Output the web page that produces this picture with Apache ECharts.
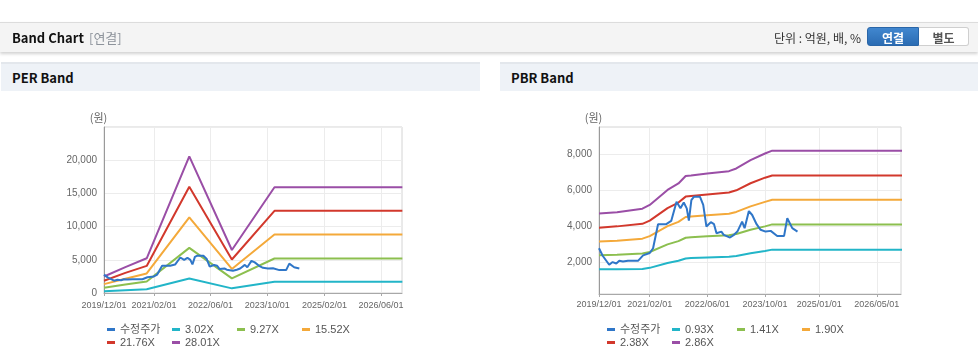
<!DOCTYPE html>
<html><head><meta charset="utf-8">
<script src="https://cdn.jsdelivr.net/npm/echarts@6/dist/echarts.min.js"></script>
<style>
html,body{margin:0;padding:0;width:978px;height:361px;overflow:hidden;background:#fff;font-family:"Noto Sans CJK KR","Noto Sans",sans-serif;}
#chart{position:absolute;left:0;top:0;width:978px;height:361px;}
.bar{position:absolute;left:0;top:22px;width:978px;height:29px;background:#f4f4f4;border-top:1px solid #dcdcdc;box-shadow:0 2px 3px rgba(0,0,0,0.18);z-index:2;}
.bar .t{position:absolute;left:12px;top:6px;font-size:13px;font-weight:700;color:#111;line-height:17px;}
.bar .s{position:absolute;left:89px;top:6px;font-size:13px;color:#8d939b;line-height:17px;}
.bar .u{position:absolute;right:117px;top:6px;font-size:12px;color:#333;line-height:17px;}
.btn{position:absolute;top:4px;height:19px;line-height:19px;font-size:12px;font-weight:700;text-align:center;box-sizing:border-box;}
.b1{left:867px;width:52px;background:linear-gradient(#4187cf,#2b6cb3);color:#fff;border:1px solid #2a66a8;border-radius:3px 0 0 3px;}
.b2{left:919px;width:50px;background:#fff;color:#555;border:1px solid #cfcfcf;border-left:none;border-radius:0 3px 3px 0;}
.sec{position:absolute;top:62px;height:27px;background:#eef2f7;border-top:2px solid #e3e7ec;z-index:2;}
.sec span{position:absolute;left:11px;top:5px;font-size:13px;font-weight:700;color:#111;line-height:17px;}
</style></head>
<body>
<div id="chart"></div>
<div class="bar"><span class="t">Band Chart</span><span class="s">[연결]</span><span class="u">단위 : 억원, 배, %</span>
<div class="btn b1">연결</div><div class="btn b2">별도</div></div>
<div class="sec" style="left:1px;width:479px;"><span>PER Band</span></div>
<div class="sec" style="left:500px;width:478px;"><span>PBR Band</span></div>
<script>
// ---- data ----
const priceName = '수정주가';
const priceDates = ['2019-12-01','2020-01-01','2020-02-25','2020-03-25','2020-04-25','2020-05-20','2020-06-20','2020-08-01','2020-10-25','2020-12-07','2021-02-01','2021-03-01','2021-04-12','2021-06-20','2021-08-01','2021-09-15','2021-10-18','2021-11-15','2021-12-10','2021-12-28','2022-01-18','2022-02-08','2022-04-01','2022-04-28','2022-05-25','2022-07-01','2022-07-28','2022-08-18','2022-09-28','2022-10-18','2022-12-10','2023-01-12','2023-02-10','2023-03-22','2023-04-12','2023-05-18','2023-06-15','2023-07-22','2023-08-25','2023-10-06','2023-11-18','2023-12-01','2024-01-12','2024-03-10','2024-04-06','2024-05-18','2024-07-01'];
const priceValues = [2770,2350,1850,2000,1920,2070,2030,2070,2070,2370,2500,2770,4100,4100,4280,5350,4980,5300,4980,4300,5440,5620,5620,5170,3970,4210,4100,3600,3690,3510,3360,3510,3690,4240,3880,4830,4610,4100,3790,3690,3730,3750,3450,3450,4430,3880,3690];

const perNames = ['3.02X','9.27X','15.52X','21.76X','28.01X'];
const perDates = ['2019-12-01','2020-06-01','2020-12-01','2021-12-01','2022-12-01','2023-12-01','2026-12-01'];
const per302 = [260,420,560,2170,700,1680,1680];
const per927 = [790,1290,1720,6800,2200,5200,5200];
const per1552 = [1340,2160,2940,11400,3620,8800,8800];
const per2176 = [1850,3030,4080,15990,5050,12370,12370];
const per2801 = [2480,3900,5230,20580,6480,15920,15920];

const pbrNames = ['0.93X','1.41X','1.90X','2.38X','2.86X'];
const pbrDates = ['2019-12-01','2020-05-01','2020-12-01','2021-02-01','2021-07-01','2021-10-01','2021-12-01','2022-01-15','2022-06-01','2022-12-01','2023-02-01','2023-06-01','2023-10-01','2023-12-01','2026-12-01'];
const pbr093 = [1600,1600,1620,1680,1950,2070,2200,2220,2260,2300,2340,2490,2620,2690,2690];
const pbr141 = [2380,2410,2480,2560,2980,3160,3350,3380,3430,3490,3560,3790,3980,4090,4090];
const pbr190 = [3140,3180,3300,3440,3990,4230,4500,4530,4600,4680,4780,5090,5340,5460,5460];
const pbr238 = [3910,3980,4120,4300,4990,5300,5630,5660,5750,5860,5980,6370,6680,6800,6800];
const pbr286 = [4690,4760,4960,5170,6000,6360,6770,6800,6910,7040,7190,7650,8020,8180,8180];

const perTicks = ['2019-12-01','2021-02-01','2022-06-01','2023-10-01','2025-02-01','2026-06-01'];
const pbrTicks = ['2019-12-01','2021-02-01','2022-06-01','2023-10-01','2025-01-01','2026-05-01'];
const pbrYTicks = [2000,4000,6000,8000];

const bandColors = ['#22b5c8','#8cbf4f','#f4a93a','#d2382c','#9a4ea6'];
const priceColor = '#2f76c8';

// ---- helpers ----
const ts = s => { const p = s.split('-').map(Number); return new Date(p[0], p[1]-1, p[2]).getTime(); };
const pad = n => (n < 10 ? '0' : '') + n;
const fmtDate = v => { const d = new Date(v); return d.getFullYear() + '/' + pad(d.getMonth()+1) + '/' + pad(d.getDate()); };
const pairs = (dates, vals) => dates.map((d, i) => [ts(d), vals[i]]);

const numFont = 'Liberation Sans, Arial, sans-serif';
function xAxisCfg(gi, ticks, maxDate, margin) {
  const tv = ticks.map(ts);
  return {
    type: 'value', gridIndex: gi, min: ts('2019-12-01'), max: ts(maxDate),
    axisLine: {show: true, lineStyle: {color: '#a8a8a8'}},
    axisTick: {show: true, length: 3, customValues: tv, lineStyle: {color: '#a8a8a8'}},
    axisLabel: {customValues: tv, formatter: v => fmtDate(v), color: '#666', fontSize: 9, fontFamily: numFont, margin: margin},
    splitLine: {show: true, lineStyle: {color: '#ececec'}}
  };
}
function yName() {
  return {name: '(원)', nameLocation: 'end', nameGap: 4,
    nameTextStyle: {color: '#666', fontSize: 11, align: 'center', padding: [0, 11, 0, 0], fontFamily: 'Noto Sans CJK KR'}};
}
const legendFont = 'Liberation Sans, Noto Sans CJK KR, sans-serif';
// one legend component per item, laid out on a fixed column grid
function legendGrid(names, left) {
  return names.map((nm, i) => ({
    left: left + (i % 4) * 65, top: i < 4 ? 324 : 337, data: [nm],
    orient: 'horizontal', icon: 'rect', itemWidth: 8, itemHeight: 3, padding: 0, selectedMode: false,
    textStyle: {fontSize: 11, color: '#555', fontFamily: legendFont}
  }));
}

const perBands = [per302, per927, per1552, per2176, per2801];
const pbrBands = [pbr093, pbr141, pbr190, pbr238, pbr286];
const series = [];
perBands.forEach((vals, i) => series.push({name: perNames[i], type: 'line', xAxisIndex: 0, yAxisIndex: 0, data: pairs(perDates, vals),
  showSymbol: false, symbol: 'none', lineStyle: {width: 2, color: bandColors[i]}, itemStyle: {color: bandColors[i]}, animation: false}));
series.push({name: priceName, type: 'line', xAxisIndex: 0, yAxisIndex: 0, data: pairs(priceDates, priceValues),
  showSymbol: false, symbol: 'none', lineStyle: {width: 2, color: priceColor}, itemStyle: {color: priceColor}, animation: false});
pbrBands.forEach((vals, i) => series.push({name: pbrNames[i], type: 'line', xAxisIndex: 1, yAxisIndex: 1, data: pairs(pbrDates, vals),
  showSymbol: false, symbol: 'none', lineStyle: {width: 2, color: bandColors[i]}, itemStyle: {color: bandColors[i]}, animation: false}));
series.push({name: priceName, type: 'line', xAxisIndex: 1, yAxisIndex: 1, data: pairs(priceDates, priceValues),
  showSymbol: false, symbol: 'none', lineStyle: {width: 2, color: priceColor}, itemStyle: {color: priceColor}, animation: false});

const chart = echarts.init(document.getElementById('chart'), null, {renderer: 'canvas'});
chart.setOption({
  animation: false,
  grid: [
    {left: 104, top: 127, width: 298, height: 166, show: true, borderColor: '#d4d4d4', borderWidth: 1},
    {left: 599, top: 127, width: 302, height: 167, show: true, borderColor: '#d4d4d4', borderWidth: 1}
  ],
  xAxis: [xAxisCfg(0, perTicks, '2026-11-28', 8), xAxisCfg(1, pbrTicks, '2026-11-21', 6)],
  yAxis: [
    Object.assign({type: 'value', gridIndex: 0, min: 0, max: 25000, interval: 5000,
      axisLine: {show: true, lineStyle: {color: '#9a9a9a'}}, axisTick: {show: false},
      axisLabel: {color: '#666', fontSize: 10, fontFamily: numFont, margin: 7, showMaxLabel: false},
      splitLine: {show: true, lineStyle: {color: '#ececec'}}}, yName()),
    Object.assign({type: 'value', gridIndex: 1, min: 230, max: 9490,
      axisLine: {show: true, lineStyle: {color: '#9a9a9a'}}, axisTick: {show: false, customValues: pbrYTicks},
      axisLabel: {customValues: pbrYTicks, color: '#666', fontSize: 10, fontFamily: numFont, margin: 7},
      splitLine: {show: true, lineStyle: {color: '#ececec'}}}, yName())
  ],
  legend: legendGrid([priceName].concat(perNames), 107).concat(legendGrid([priceName].concat(pbrNames), 607)),
  series: series
});
</script>
</body></html>
